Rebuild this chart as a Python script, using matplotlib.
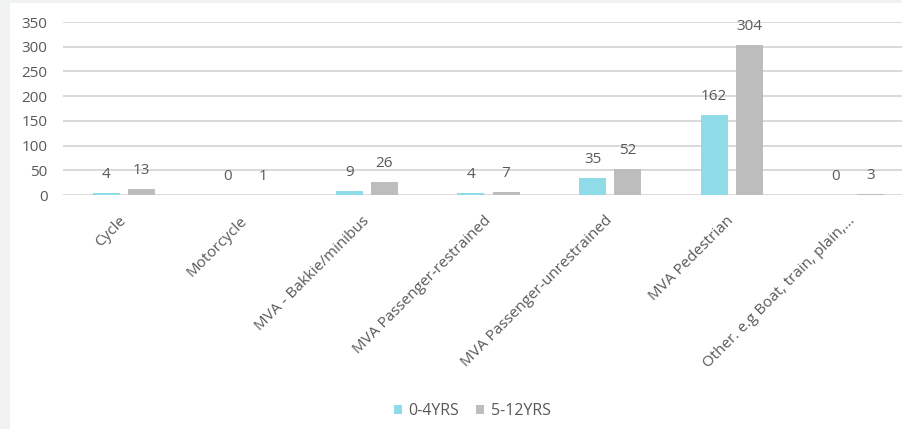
import matplotlib.pyplot as plt
import numpy as np
from matplotlib.patches import Rectangle

# Injury mechanism counts by age group
categories = [
    "Cycle",
    "Motorcycle",
    "MVA - Bakkie/minibus",
    "MVA Passenger-restrained",
    "MVA Passenger-unrestrained",
    "MVA Pedestrian",
    "Other. e.g Boat, train, plain,...",
]
age_0_4 = [4, 0, 9, 4, 35, 162, 0]
age_5_12 = [13, 1, 26, 7, 52, 304, 3]
series_names = ["0-4YRS", "5-12YRS"]

CYAN = "#8fdce8"
GREY = "#bdbdbd"
TEXT = "#595959"
GRID = "#d9d9d9"
FRAME = "#f1f3f3"

plt.rcParams["font.family"] = ["Open Sans", "DejaVu Sans"]

W, H = 902, 429
fig = plt.figure(figsize=(W / 100, H / 100), dpi=100)
fig.patch.set_facecolor("white")

# grey frame strips on the left and top
fig.patches.append(Rectangle((0, 0), 10 / W, 1, transform=fig.transFigure,
                             facecolor=FRAME, edgecolor="none"))
fig.patches.append(Rectangle((0, 1 - 3 / H), 1, 3 / H, transform=fig.transFigure,
                             facecolor=FRAME, edgecolor="none"))

ax = fig.add_axes([63 / W, 1 - 195 / H, 851 / W, 173 / H])
ax.set_facecolor("none")

x = np.arange(len(categories))
bw = 0.222
off = 0.144
bars1 = ax.bar(x - off, age_0_4, width=bw, color=CYAN, zorder=3, label=series_names[0])
bars2 = ax.bar(x + off, age_5_12, width=bw, color=GREY, zorder=3, label=series_names[1])

for bars, vals in ((bars1, age_0_4), (bars2, age_5_12)):
    for b, v in zip(bars, vals):
        ax.annotate(str(v), (b.get_x() + b.get_width() / 2, v),
                    xytext=(0, 11), textcoords="offset pixels",
                    ha="center", va="bottom", fontsize=11, color=TEXT)

ax.set_xlim(-0.5, len(categories) - 0.5)
ax.set_ylim(0, 350)
ax.set_yticks(range(0, 351, 50))
ax.yaxis.grid(True, color=GRID, linewidth=1.4, zorder=0)
ax.set_axisbelow(True)
for s in ax.spines.values():
    s.set_visible(False)
ax.tick_params(axis="both", length=0, colors=TEXT, labelsize=11)
ax.tick_params(axis="y", pad=11)

ax.set_xticks(x)
ax.set_xticklabels(categories, rotation=45, ha="right", va="center",
                   rotation_mode="anchor", fontsize=11, color=TEXT)
ax.tick_params(axis="x", pad=17)

leg = fig.legend(handles=[bars1, bars2], labels=series_names, loc="center",
                 bbox_to_anchor=(472 / W, 1 - 411 / H), ncol=2, frameon=False,
                 fontsize=11.5, handlelength=0.5, handleheight=0.5,
                 handletextpad=0.4, columnspacing=1.1)
for t in leg.get_texts():
    t.set_color(TEXT)

fig.savefig("out.png", dpi=100, facecolor=fig.get_facecolor())
